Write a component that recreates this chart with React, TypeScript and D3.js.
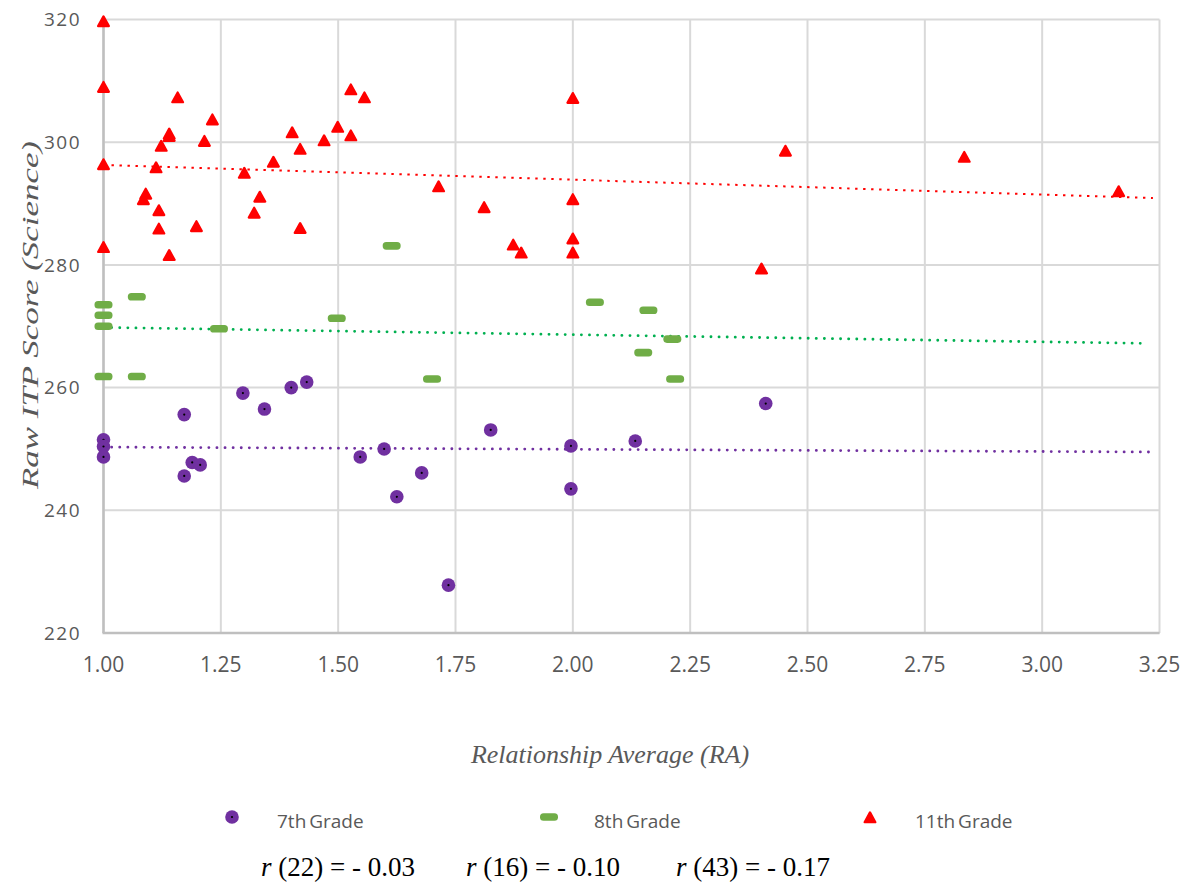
import React from "react";
import * as d3 from "d3";

// ---------- data ----------
const grade7: [number, number][] = [
  [1.0, 251.5], [1.0, 250.4], [1.0, 248.7], [1.172, 255.6], [1.172, 245.6],
  [1.189, 247.8], [1.206, 247.4], [1.297, 259.1], [1.343, 256.5], [1.4, 260.0],
  [1.433, 260.9], [1.547, 248.7], [1.598, 250.0], [1.625, 242.2], [1.678, 246.1],
  [1.735, 227.8], [1.825, 253.1], [1.996, 250.5], [1.996, 243.5], [2.133, 251.3],
  [2.411, 257.4],
];
const grade8: [number, number][] = [
  [1.0, 273.5], [1.0, 271.8], [1.0, 270.0], [1.0, 261.8], [1.071, 274.8],
  [1.071, 261.8], [1.246, 269.6], [1.497, 271.3], [1.614, 283.1], [1.7, 261.4],
  [2.047, 273.9], [2.15, 265.7], [2.161, 272.6], [2.212, 267.9], [2.218, 261.4],
];
const grade11: [number, number][] = [
  [1.0, 319.6], [1.0, 308.9], [1.0, 296.3], [1.0, 282.8], [1.085, 290.6],
  [1.09, 291.5], [1.112, 295.8], [1.118, 288.8], [1.118, 285.8], [1.123, 299.3],
  [1.14, 301.3], [1.14, 300.9], [1.14, 281.5], [1.158, 307.2], [1.198, 286.2],
  [1.215, 300.1], [1.232, 303.6], [1.3, 294.9], [1.321, 288.4], [1.333, 291.0],
  [1.362, 296.7], [1.402, 301.5], [1.419, 298.8], [1.419, 285.9], [1.47, 300.2],
  [1.499, 302.4], [1.527, 308.5], [1.527, 301.0], [1.556, 307.2], [1.714, 292.7],
  [1.811, 289.3], [1.873, 283.2], [1.89, 281.9], [2.0, 307.1], [2.0, 290.6],
  [2.0, 284.2], [2.0, 281.9], [2.402, 279.3], [2.453, 298.5], [2.834, 297.5],
  [3.163, 291.9],
];
// trendline end points [x, y]
const trend7: [number, number][] = [[1.0, 250.3], [3.236, 249.5]];
const trend8: [number, number][] = [[1.0, 269.8], [3.221, 267.2]];
const trend11: [number, number][] = [[1.0, 296.3], [3.236, 290.9]];

const xTicks = [1.0, 1.25, 1.5, 1.75, 2.0, 2.25, 2.5, 2.75, 3.0, 3.25];
const yTicks = [220, 240, 260, 280, 300, 320];
const legendLabels = ["7th Grade", "8th Grade", "11th Grade"];
const stats = [
  { df: "(22)", r: "- 0.03" },
  { df: "(16)", r: "- 0.10" },
  { df: "(43)", r: "- 0.17" },
];

const W = 1189;
const H = 884;
const PURPLE = "#7030A0";
const GREEN = "#70AD47";
const GREEN_LINE = "#00B050";
const RED = "#FF0000";
const GRID = "#D9D9D9";
const AXIS = "#BFBFBF";
const TEXT = "#595959";

const x = d3.scaleLinear().domain([1.0, 3.25]).range([103.5, 1159.5]);
const y = d3.scaleLinear().domain([220, 320]).range([633, 19.5]);
const line = d3
  .line<[number, number]>()
  .x((d) => x(d[0]))
  .y((d) => y(d[1]));

const tri = "M0,-5.6 L5.4,4.2 L-5.4,4.2 Z";

function Circle7({ cx, cy }: { cx: number; cy: number }) {
  return (
    <g transform={`translate(${cx},${cy})`}>
      <circle r={6.8} fill={PURPLE} />
      <circle r={1.1} fill="#000" />
    </g>
  );
}
function Dash8({ cx, cy }: { cx: number; cy: number }) {
  return (
    <rect x={cx - 9} y={cy - 3.8} width={18} height={7.6} rx={3.6} fill={GREEN} />
  );
}
function Tri11({ cx, cy }: { cx: number; cy: number }) {
  return (
    <path
      transform={`translate(${cx},${cy})`}
      d={tri}
      fill={RED}
      stroke={RED}
      strokeWidth={2.2}
      strokeLinejoin="round"
    />
  );
}

export default function App() {
  const sans = "'Open Sans', 'DejaVu Sans', sans-serif";
  const serif = "'Liberation Serif', 'Times New Roman', serif";
  const legendX = [232, 549, 870];
  const legendTextX = [277, 594, 915];
  const statX = [261, 466, 676];
  return (
    <div style={{ position: "absolute", left: 0, top: 0 }}>
      <svg width={W} height={H} viewBox={`0 0 ${W} ${H}`} style={{ display: "block", background: "#fff" }}>
        <rect width={W} height={H} fill="#fff" />
        {/* grid */}
        {yTicks.map((t) => (
          <line key={"gy" + t} x1={x(1.0)} x2={x(3.25)} y1={y(t)} y2={y(t)} stroke={GRID} strokeWidth={2} />
        ))}
        {xTicks.map((t) => (
          <line key={"gx" + t} x1={x(t)} x2={x(t)} y1={y(220)} y2={y(320)} stroke={GRID} strokeWidth={2} />
        ))}
        {/* axes */}
        <line x1={x(1.0)} x2={x(1.0)} y1={y(220)} y2={y(320)} stroke={AXIS} strokeWidth={2.5} />
        <line x1={x(1.0) - 1} x2={x(3.25)} y1={y(220)} y2={y(220)} stroke={AXIS} strokeWidth={2.5} />

        {/* tick labels */}
        {yTicks.map((t) => (
          <text key={"ty" + t} x={81} y={y(t)} dy="0.36em" textAnchor="end" fontFamily={sans} fontSize={19} letterSpacing={1.5} fill={TEXT}>
            {t}
          </text>
        ))}
        {xTicks.map((t) => (
          <text key={"tx" + t} x={x(t)} y={672} textAnchor="middle" fontFamily={sans} fontSize={21} fill={TEXT}>
            {t.toFixed(2)}
          </text>
        ))}

        {/* axis titles */}
        <text x={610} y={763} textAnchor="middle" fontFamily={serif} fontStyle="italic" fontSize={26} fill={TEXT}>
          Relationship Average (RA)
        </text>
        <text
          transform={`translate(38,315) rotate(-90)`}
          textAnchor="middle"
          fontFamily={serif}
          fontStyle="italic"
          fontSize={24}
          fill={TEXT}
          textLength={348}
          lengthAdjust="spacingAndGlyphs"
        >
          Raw ITP Score (Science)
        </text>

        {/* trendlines */}
        <path d={line(trend7) || ""} fill="none" stroke={PURPLE} strokeWidth={2.8} strokeDasharray="0.1 8" strokeLinecap="round" />
        <path d={line(trend8) || ""} fill="none" stroke={GREEN_LINE} strokeWidth={2.8} strokeDasharray="0.1 8" strokeLinecap="round" />
        <path d={line(trend11) || ""} fill="none" stroke={RED} strokeWidth={2} strokeDasharray="2.4 5.6" />

        {/* points */}
        {grade7.map((d, i) => (
          <Circle7 key={"p7" + i} cx={x(d[0])} cy={y(d[1])} />
        ))}
        {grade8.map((d, i) => (
          <Dash8 key={"p8" + i} cx={x(d[0])} cy={y(d[1])} />
        ))}
        {grade11.map((d, i) => (
          <Tri11 key={"p11" + i} cx={x(d[0])} cy={y(d[1])} />
        ))}

        {/* legend */}
        <Circle7 cx={legendX[0]} cy={817} />
        <Dash8 cx={legendX[1]} cy={817} />
        <Tri11 cx={legendX[2]} cy={818} />
        {legendLabels.map((l, i) => (
          <text key={"lg" + i} x={legendTextX[i]} y={828} fontFamily={sans} fontSize={19} fill={TEXT} wordSpacing={-2}>
            {l}
          </text>
        ))}

        {/* correlation line */}
        {stats.map((s, i) => (
          <text key={"st" + i} x={statX[i]} y={876} fontFamily={serif} fontSize={27} fill="#000">
            <tspan fontStyle="italic">r</tspan>
            <tspan>{` ${s.df} = ${s.r}`}</tspan>
          </text>
        ))}
      </svg>
    </div>
  );
}
